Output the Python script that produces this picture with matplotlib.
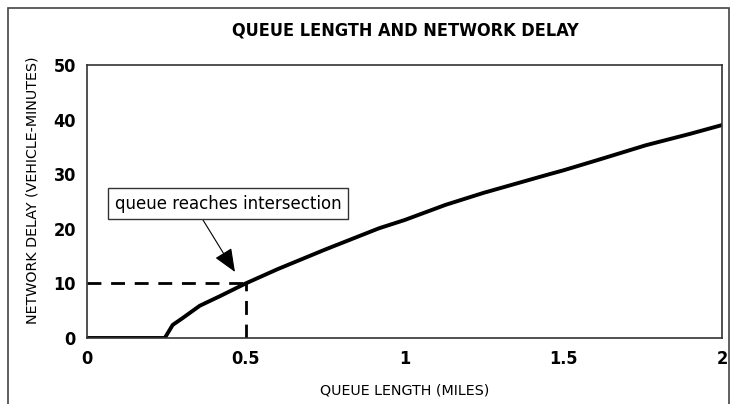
import matplotlib
matplotlib.use("Agg")
import matplotlib.pyplot as plt
from matplotlib.patches import Rectangle

# queue length (miles) vs network delay (vehicle-minutes)
queue_len = [0.0, 0.245, 0.27, 0.30, 0.355, 0.42, 0.50, 0.60, 0.75, 0.92,
             1.0, 1.13, 1.25, 1.45, 1.5, 1.62, 1.76, 1.9, 2.0]
delay = [0.0, 0.0, 2.4, 3.6, 5.9, 7.7, 10.0, 12.6, 16.2, 20.1,
         21.6, 24.4, 26.6, 29.9, 30.7, 32.8, 35.3, 37.4, 39.0]

x_ticks = [0, 0.5, 1, 1.5, 2]
x_labels = ["0", "0.5", "1", "1.5", "2"]
y_ticks = [0, 10, 20, 30, 40, 50]

marker_x = 0.5
marker_y = 10

fig = plt.figure(figsize=(7.34, 4.04), dpi=100)
# frame round the whole picture (bottom edge falls off the image)
fig.patches.append(Rectangle((8 / 734, -0.01), 721 / 734, 1.01 - 8 / 404,
                             transform=fig.transFigure, fill=False,
                             edgecolor="#444444", lw=1.2))

ax = fig.add_axes([87 / 734, 1 - 338 / 404, (722 - 87) / 734, (338 - 65) / 404])
ax.plot(queue_len, delay, color="black", lw=2.8)

# dashed guide lines to the point where the queue reaches the intersection
ax.plot([0, marker_x], [marker_y, marker_y], color="black", lw=2, ls=(0, (5, 3.5)))
ax.plot([marker_x, marker_x], [0, marker_y], color="black", lw=2, ls=(0, (5, 3.5)))

ax.annotate("queue reaches intersection", xy=(0.466, 12.1), xytext=(0.444, 24.6),
            ha="center", va="center", fontsize=12, family="DejaVu Sans",
            bbox=dict(boxstyle="square,pad=0.4", fc="white", ec="#333333", lw=1),
            arrowprops=dict(arrowstyle="-|>,head_length=1.2,head_width=0.5",
                            color="black", lw=0.8, shrinkA=0, shrinkB=0,
                            relpos=(0.37, 0)))

ax.set_xlim(0, 2)
ax.set_ylim(0, 50)
ax.set_xticks(x_ticks)
ax.set_xticklabels(x_labels)
ax.set_yticks(y_ticks)
ax.tick_params(length=0)
ax.tick_params(axis="x", pad=9)
ax.tick_params(axis="y", pad=8)
for lab in ax.get_xticklabels() + ax.get_yticklabels():
    lab.set_fontweight("bold")
    lab.set_fontstretch("condensed")
    lab.set_fontsize(13)
for s in ax.spines.values():
    s.set_linewidth(1.2)
    s.set_color("#333333")

fig.text(405 / 734, 1 - 30 / 404, "QUEUE LENGTH AND NETWORK DELAY", ha="center",
         va="center", fontsize=13, fontweight="bold", fontstretch="condensed")
fig.text(405 / 734, 1 - 390 / 404, "QUEUE LENGTH (MILES)", ha="center", va="center",
         fontsize=10.3)
fig.text(33 / 734, 1 - 190 / 404, "NETWORK DELAY (VEHICLE-MINUTES)", ha="center",
         va="center", rotation=90, fontsize=10.3)

fig.savefig("out.png", dpi=100)
